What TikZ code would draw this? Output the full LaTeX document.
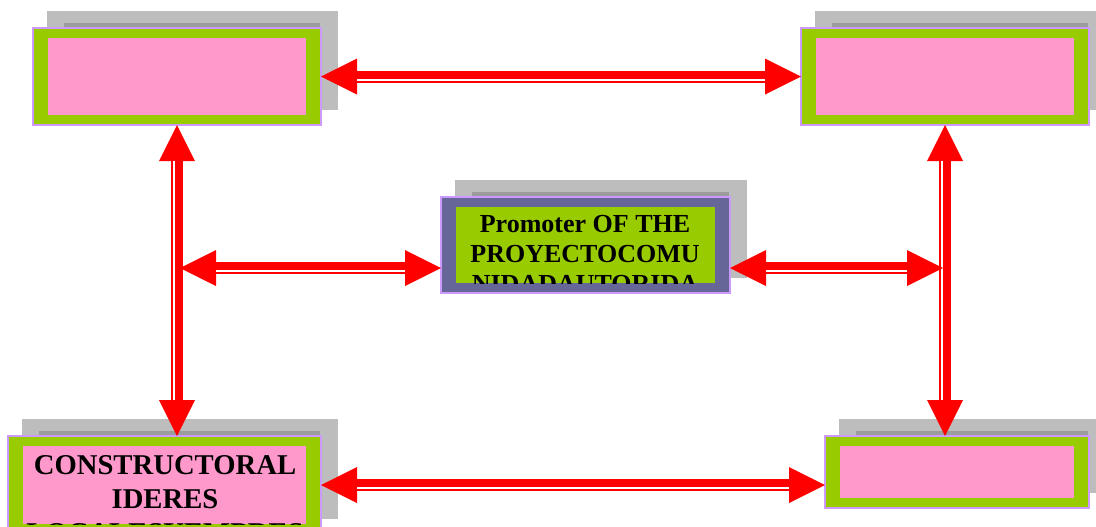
\documentclass[tikz,border=0pt]{standalone}
\usepackage{fontspec}
\setmainfont{Liberation Serif}
\usetikzlibrary{arrows.meta,backgrounds}
\definecolor{rosa}{HTML}{FF99CC}
\definecolor{leaf}{HTML}{99CC00}
\definecolor{lila}{HTML}{CC99FF}
\definecolor{slate}{HTML}{666699}
\definecolor{shadowgray}{HTML}{BDBDBD}
\definecolor{shadowdark}{HTML}{9C9C9C}
\definecolor{arrowred}{HTML}{FF0000}

\begin{document}
\begin{tikzpicture}[x=0.75pt,y=-0.75pt,
  card/.style 2 args={draw=lila, line width=1.5pt, fill=#1, anchor=north west,
    inner sep=0pt, outer sep=0pt,
    path picture={\fill[#2] ([xshift=11.25pt,yshift=-7.5pt]path picture bounding box.north west)
      rectangle ([xshift=-11.25pt,yshift=7.5pt]path picture bounding box.south east);}},
  dbl/.style={draw=arrowred, line width=9pt,
    {Triangle[length=27pt,width=27pt,line width=0pt]}-{Triangle[length=27pt,width=27pt,line width=0pt]}},
  core/.style={draw=white, line width=1.5pt, shorten <=27pt, shorten >=27pt},
  bigtext/.style={inner sep=0pt, align=center, anchor=north}]
\useasboundingbox (0,0) rectangle (1096,526);

\node (tl) [card={leaf}{rosa}, minimum width=216pt, minimum height=72.75pt] at (33,28) {};
\node (tr) [card={leaf}{rosa}, minimum width=216pt, minimum height=72.75pt] at (801,28) {};
\node (ctr) [card={slate}{leaf}, minimum width=216.75pt, minimum height=72pt] at (441,197) {};
\node (bl) [card={leaf}{rosa}, minimum width=234.75pt, minimum height=73.5pt] at (8,436) {};
\node (br) [card={leaf}{rosa}, minimum width=198pt, minimum height=54pt] at (825,436) {};

% shadows
\begin{scope}[on background layer]
\foreach \b in {tl,tr,ctr,bl,br}{
  \fill[shadowgray] ([shift={(14,-17)}]\b.north west) rectangle ([shift={(17,-15)}]\b.south east);
  \fill[shadowdark] ([shift={(31,-5)}]\b.north west) rectangle ([shift={(-1,0)}]\b.north east);
}
\end{scope}

% texts, cut by the inner field
\begin{scope}
\clip ([xshift=11.25pt,yshift=-7.5pt]ctr.north west) rectangle ([xshift=-11.25pt,yshift=7.5pt]ctr.south east);
\node (ctrtext) [bigtext, font=\bfseries\fontsize{19.5}{22.5}\selectfont] at (585,215)
  {Promoter OF THE\\PROYECTOCOMU\\NIDADAUTORIDA\\DES};
\end{scope}
\begin{scope}
\clip ([xshift=11.25pt,yshift=-7.5pt]bl.north west) rectangle ([xshift=-11.25pt,yshift=7.5pt]bl.south east);
\node (bltext) [bigtext, font=\bfseries\fontsize{21.5}{25.5}\selectfont] at (165,455)
  {CONSTRUCTORAL\\IDERES\\LOCALESYEMPRES\\ARIOS};
\end{scope}

\coordinate (lhub) at (180,268);
\coordinate (rhub) at (943,268);

% arrows
\draw[dbl] (tl.east) -- (tr.west);
\draw[core, transform canvas={yshift=-2.25pt}] (tl.east) -- (tr.west);
\draw[dbl] (bl.east) -- (bl.east -| br.west);
\draw[core, transform canvas={yshift=-2.25pt}] (bl.east) -- (bl.east -| br.west);
\draw[dbl] (tl.south) -- (tl.south |- bl.north);
\draw[core, transform canvas={xshift=-2.25pt}] (tl.south) -- (tl.south |- bl.north);
\draw[dbl] (tr.south) -- (tr.south |- br.north);
\draw[core, transform canvas={xshift=-2.25pt}] (tr.south) -- (tr.south |- br.north);
\draw[dbl] (lhub) -- (lhub -| ctr.west);
\draw[core, transform canvas={yshift=-2.25pt}] (lhub) -- (lhub -| ctr.west);
\draw[dbl] (rhub -| ctr.east) -- (rhub);
\draw[core, transform canvas={yshift=-2.25pt}] (rhub -| ctr.east) -- (rhub);
\end{tikzpicture}
\end{document}
